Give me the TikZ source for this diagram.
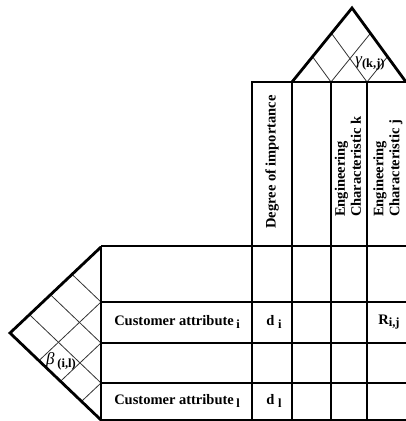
\documentclass[tikz,border=0pt]{standalone}
\usepackage{fontspec}
\setmainfont{Liberation Serif}
\usetikzlibrary{calc}
\newcommand{\dn}[1]{\raisebox{-0.4ex}{\fontsize{12.5}{12.5}\selectfont\upshape\bfseries #1}}

\begin{document}
\begin{tikzpicture}[x=1pt, y=-1pt,
  heavy/.style={line width=2.8pt, line join=miter},
  grid/.style={line width=1.5pt},
  lattice/.style={line width=0.8pt, black!80},
  cellTxt/.style={font=\fontsize{14.5}{16}\selectfont\bfseries, inner sep=0pt},
  headTxt/.style={cellTxt, rotate=90, align=left, anchor=west},
  greekTxt/.style={font=\fontsize{17}{17}\selectfont\itshape, inner sep=0pt}]
\useasboundingbox (0,0) rectangle (406,421);
\coordinate (L) at (292,82);
\coordinate (A) at (352,8);
\coordinate (R) at (406,82);
\coordinate (T) at (101,247);
\coordinate (W) at (10,333);
\coordinate (B) at (101,420);
\foreach \t in {0.342,0.658}{
  \draw[lattice] ($(L)!\t!(R)$) -- ($(A)!\t!(R)$);
  \draw[lattice] ($(L)!\t!(R)$) -- ($(L)!\t!(A)$);
}
\foreach \t in {0.318,0.555,0.786}{
  \draw[lattice] ($(T)!\t!(B)$) -- ($(W)!\t!(B)$);
  \draw[lattice] ($(T)!\t!(B)$) -- ($(T)!\t!(W)$);
}
\foreach \y in {302,343,383}
  \draw[grid] (101,\y) -- (406,\y);
\foreach \x in {292,331,367}
  \draw[grid] (\x,82) -- (\x,420);
\draw[heavy] (L) -- (A) -- (R);
\draw[heavy] (T) -- (W) -- (B);
\draw[heavy] (406,82) -- (252,82) -- (252,420);
\draw[heavy] (101,246) -- (406,246);
\draw[heavy] (406,420) -- (101,420) -- (101,246);
\node[cellTxt] (CustI) at (177,322) {Customer attribute\,\dn{i}};
\node[cellTxt] (CustL) at (177,401) {Customer attribute\,\dn{l}};
\node[cellTxt] (DI) at (274,322) {d \dn{i}};
\node[cellTxt] (DL) at (274,401) {d \dn{l}};
\node[cellTxt] (Rij) at (389,322) {R\dn{i,j}};
\node[headTxt, anchor=center] (Deg) at (272,162) {Degree of importance};
\node[headTxt] (EngK) at (348,217) {Engineering\\Characteristic k};
\node[headTxt] (EngJ) at (388,217) {Engineering\\Characteristic j};
\node[greekTxt] (Gam) at (370,63) {γ\dn{(k,j)}};
\node[greekTxt] (Bet) at (61,361) {β\,\dn{(i,l)}};
\end{tikzpicture}
\end{document}
